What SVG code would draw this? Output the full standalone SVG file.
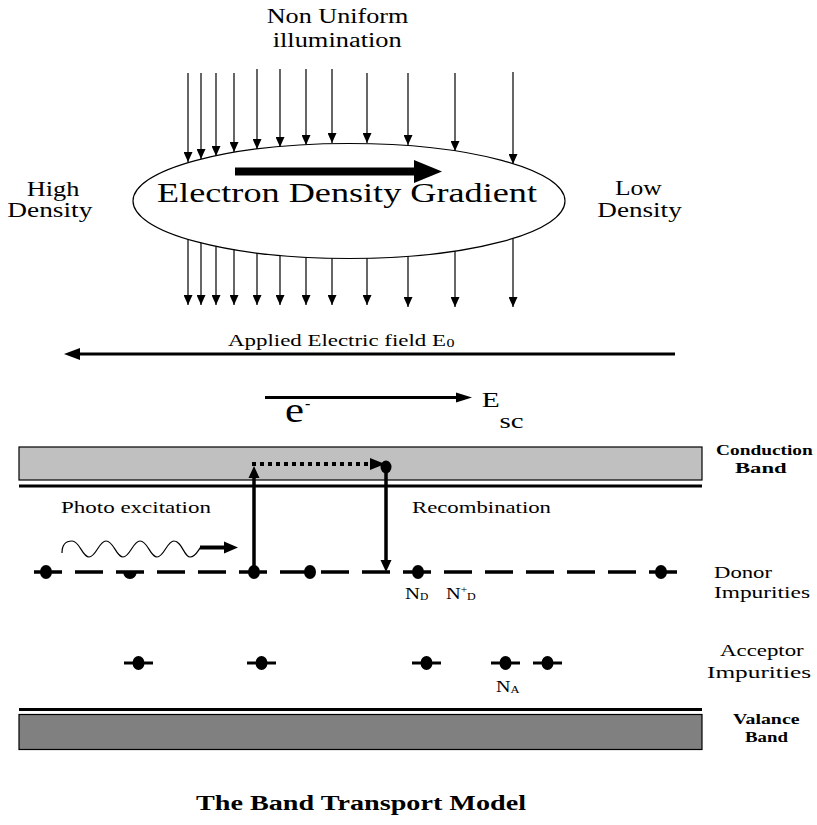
<svg xmlns="http://www.w3.org/2000/svg" width="817" height="825" viewBox="0 0 817 825">
<style>
text{font-family:"Liberation Serif","Times New Roman",serif;fill:#000}
.b{font-weight:bold}
.thin{stroke:#000;stroke-width:1.2;fill:none}
.thick{stroke:#000;stroke-width:3.5;fill:none}
.dot{fill:#000}
</style>
<defs>
<marker id="ah" markerUnits="userSpaceOnUse" markerWidth="10" markerHeight="9" refX="10" refY="4.5" orient="auto">
<path d="M0,0 L10,4.5 L0,9 z" fill="#000"/>
</marker>
</defs>
<rect width="817" height="825" fill="#fff"/>

<g id="title-illumination">
<text x="266.7" y="23.3" font-size="20" textLength="141.7" lengthAdjust="spacingAndGlyphs">Non Uniform</text>
<text x="272.7" y="46.7" font-size="20" textLength="129" lengthAdjust="spacingAndGlyphs">illumination</text>
</g>

<g id="conduction-band">
<rect x="19" y="447" width="683" height="33" fill="#c0c0c0" stroke="#000" stroke-width="1.2"/>
<line x1="19" y1="486" x2="702" y2="486" stroke="#000" stroke-width="3"/>
<text class="b" x="716" y="455" font-size="15" textLength="96.7" lengthAdjust="spacingAndGlyphs">Conduction</text>
<text class="b" x="735" y="472.7" font-size="15" textLength="51.7" lengthAdjust="spacingAndGlyphs">Band</text>
</g>

<g id="valence-band">
<line x1="19" y1="709.5" x2="702" y2="709.5" stroke="#000" stroke-width="3"/>
<rect x="19" y="714.5" width="683" height="35" fill="#808080" stroke="#000" stroke-width="1.2"/>
<text class="b" x="733" y="724" font-size="15" textLength="66.5" lengthAdjust="spacingAndGlyphs">Valance</text>
<text class="b" x="745" y="741.7" font-size="15" textLength="43" lengthAdjust="spacingAndGlyphs">Band</text>
</g>

<g id="connectors">
<g id="illum-top" class="thin" marker-end="url(#ah)">
<line x1="188" y1="73" x2="188" y2="162"/>
<line x1="201" y1="73" x2="201" y2="159"/>
<line x1="216" y1="73" x2="216" y2="156"/>
<line x1="234" y1="73" x2="234" y2="152"/>
<line x1="257" y1="69" x2="257" y2="149"/>
<line x1="280" y1="69" x2="280" y2="147"/>
<line x1="306" y1="69" x2="306" y2="145"/>
<line x1="332" y1="69" x2="332" y2="143"/>
<line x1="367" y1="73" x2="367" y2="143"/>
<line x1="408" y1="73" x2="408" y2="145"/>
<line x1="455" y1="73" x2="455" y2="151"/>
<line x1="513" y1="72" x2="513" y2="164"/>
</g>
<g id="illum-bottom" class="thin" marker-end="url(#ah)">
<line x1="188" y1="239" x2="188" y2="305"/>
<line x1="201" y1="242" x2="201" y2="305"/>
<line x1="216" y1="246" x2="216" y2="305"/>
<line x1="234" y1="249" x2="234" y2="305"/>
<line x1="257" y1="252" x2="257" y2="305"/>
<line x1="280" y1="255" x2="280" y2="305"/>
<line x1="306" y1="257" x2="306" y2="305"/>
<line x1="332" y1="258" x2="332" y2="305"/>
<line x1="367" y1="258" x2="367" y2="305"/>
<line x1="408" y1="256" x2="408" y2="307"/>
<line x1="455" y1="251" x2="455" y2="307"/>
<line x1="513" y1="238" x2="513" y2="307"/>
</g>
<g id="applied-field">
<line x1="675" y1="354" x2="78" y2="354" stroke="#000" stroke-width="3"/>
<polygon points="64,354 80,348 80,360" fill="#000"/>
</g>
<g id="esc-arrow">
<line x1="265" y1="397.5" x2="458" y2="397.5" stroke="#000" stroke-width="3"/>
<polygon points="472,397.5 456,392.5 456,402.5" fill="#000"/>
</g>
<g id="excitation-arrow">
<line x1="254" y1="572" x2="254" y2="476" class="thick"/>
<polygon points="254,466 248.5,478 259.5,478" fill="#000"/>
</g>
<g id="cb-drift">
<line x1="252" y1="464" x2="371" y2="464" stroke="#000" stroke-width="4" stroke-dasharray="4 4"/>
<polygon points="370,458 385,464 370,470" fill="#000"/>
</g>
<g id="recombination-arrow">
<line x1="386" y1="467" x2="386" y2="561" class="thick"/>
<polygon points="386,572 380.5,560 391.5,560" fill="#000"/>
</g>
<g id="photon">
<path class="thin" d="M62,553 C62,545 66,541 72,541 C80,541 82,557 89,557 C96,557 99,541 106,541 C114,541 116,557 123,557 C130,557 133,541 140,541 C148,541 150,557 157,557 C164,557 167,541 174,541 C182,541 184,557 190,557 C196,557 198,550 201,547"/>
<line x1="200" y1="547.5" x2="226" y2="547.5" stroke="#000" stroke-width="4"/>
<polygon points="224,541.5 238,547.5 224,553.5" fill="#000"/>
</g>
</g>

<g id="gradient-ellipse">
<ellipse cx="349" cy="201" rx="216" ry="57.5" fill="#fff" stroke="#000" stroke-width="1.2"/>
<polygon points="235,167.5 414,167.5 414,160 442,171.5 414,183 414,175.5 235,175.5" fill="#000"/>
<text x="157" y="202" font-size="27" textLength="380" lengthAdjust="spacingAndGlyphs">Electron Density Gradient</text>
</g>

<g id="high-density">
<text x="26.7" y="196" font-size="20" textLength="52.6" lengthAdjust="spacingAndGlyphs">High</text>
<text x="7.3" y="217.3" font-size="20" textLength="85" lengthAdjust="spacingAndGlyphs">Density</text>
</g>
<g id="low-density">
<text x="615" y="195" font-size="20" textLength="46.7" lengthAdjust="spacingAndGlyphs">Low</text>
<text x="597.3" y="217.3" font-size="20" textLength="84.4" lengthAdjust="spacingAndGlyphs">Density</text>
</g>

<g id="applied-label">
<text x="228" y="346" font-size="17" textLength="218" lengthAdjust="spacingAndGlyphs">Applied Electric field E</text>
<text x="446.5" y="347" font-size="12" textLength="8" lengthAdjust="spacingAndGlyphs">0</text>
</g>

<g id="electron-label">
<text x="285" y="421.7" font-size="36" textLength="19" lengthAdjust="spacingAndGlyphs">e</text>
<text x="305" y="409" font-size="16">-</text>
</g>
<g id="esc-label">
<text x="481.7" y="407" font-size="21" textLength="18" lengthAdjust="spacingAndGlyphs">E</text>
<text x="499.6" y="427.7" font-size="22" textLength="24" lengthAdjust="spacingAndGlyphs">sc</text>
</g>

<g id="cb-electron">
<ellipse cx="386" cy="467" rx="5.5" ry="6.5" class="dot"/>
</g>

<g id="process-labels">
<text x="61" y="513.3" font-size="17" textLength="150" lengthAdjust="spacingAndGlyphs">Photo excitation</text>
<text x="412" y="513.3" font-size="17" textLength="139" lengthAdjust="spacingAndGlyphs">Recombination</text>
</g>

<g id="donor-level">
<line x1="34" y1="572" x2="678" y2="572" stroke="#000" stroke-width="3.5" stroke-dasharray="28 13"/>
<ellipse cx="46" cy="572" rx="6" ry="7" class="dot"/>
<path d="M123,572 Q124,579 130,579 Q136,579 137,571 Q132,573 128,571 Z" class="dot"/>
<ellipse cx="254" cy="572" rx="6" ry="7" class="dot"/>
<ellipse cx="310" cy="572" rx="6" ry="7" class="dot"/>
<ellipse cx="418" cy="572" rx="6" ry="7" class="dot"/>
<ellipse cx="661" cy="572" rx="6" ry="7" class="dot"/>
<text x="405" y="599.3" font-size="17" textLength="15" lengthAdjust="spacingAndGlyphs">N</text>
<text x="420" y="600" font-size="11" textLength="8.3" lengthAdjust="spacingAndGlyphs">D</text>
<text x="446" y="599.3" font-size="17" textLength="14.7" lengthAdjust="spacingAndGlyphs">N</text>
<text x="460.7" y="593" font-size="11" textLength="6.5" lengthAdjust="spacingAndGlyphs">+</text>
<text x="467" y="600" font-size="11" textLength="8.7" lengthAdjust="spacingAndGlyphs">D</text>
<text x="714" y="578" font-size="17" textLength="58" lengthAdjust="spacingAndGlyphs">Donor</text>
<text x="714" y="598.3" font-size="17" textLength="96" lengthAdjust="spacingAndGlyphs">Impurities</text>
</g>

<g id="acceptor-level">
<g stroke="#000" stroke-width="3">
<line x1="124" y1="663" x2="153" y2="663"/>
<line x1="247" y1="663" x2="276" y2="663"/>
<line x1="412" y1="663" x2="441" y2="663"/>
<line x1="491" y1="663" x2="520" y2="663"/>
<line x1="533" y1="663" x2="562" y2="663"/>
</g>
<ellipse cx="138.5" cy="663" rx="6" ry="7" class="dot"/>
<ellipse cx="261.5" cy="663" rx="6" ry="7" class="dot"/>
<ellipse cx="426.5" cy="663" rx="6" ry="7" class="dot"/>
<ellipse cx="505.5" cy="663" rx="6" ry="7" class="dot"/>
<ellipse cx="547.5" cy="663" rx="6" ry="7" class="dot"/>
<text x="496" y="691.7" font-size="17" textLength="14.5" lengthAdjust="spacingAndGlyphs">N</text>
<text x="510.5" y="692.5" font-size="11" textLength="9" lengthAdjust="spacingAndGlyphs">A</text>
<text x="720" y="656" font-size="17" textLength="83.7" lengthAdjust="spacingAndGlyphs">Acceptor</text>
<text x="707" y="677.7" font-size="17" textLength="104" lengthAdjust="spacingAndGlyphs">Impurities</text>
</g>

<g id="caption">
<text class="b" x="196" y="810" font-size="20" textLength="330" lengthAdjust="spacingAndGlyphs">The Band Transport Model</text>
</g>
</svg>
